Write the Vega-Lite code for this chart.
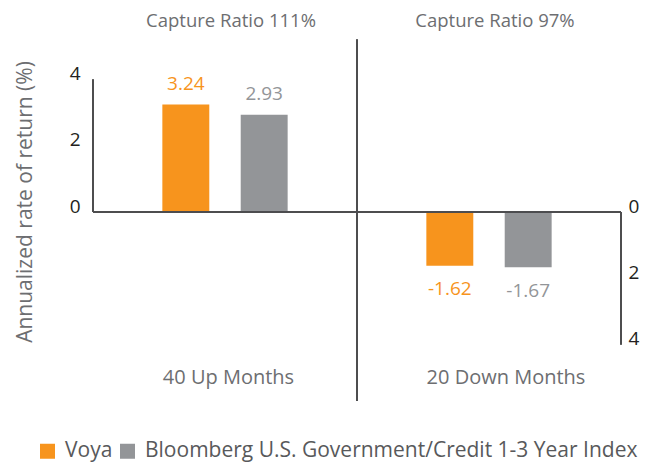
{
  "$schema": "https://vega.github.io/schema/vega-lite/v6.json",
  "autosize": "none",
  "width": 528,
  "height": 305,
  "padding": {"left": 93, "top": 59.5, "right": 29, "bottom": 98.5},
  "config": {"font": "Open Sans", "view": {"stroke": null}},
  "data": {
    "values": [
      {"group": "Up", "series": "Voya", "value": 3.24},
      {"group": "Up", "series": "Bloomberg U.S. Government/Credit 1-3 Year Index", "value": 2.93},
      {"group": "Down", "series": "Voya", "value": -1.62},
      {"group": "Down", "series": "Bloomberg U.S. Government/Credit 1-3 Year Index", "value": -1.67}
    ]
  },
  "layer": [
    {
      "mark": {"type": "bar"},
      "encoding": {
        "x": {
          "field": "group", "type": "nominal", "sort": ["Up", "Down"],
          "scale": {"paddingInner": 0, "paddingOuter": 0},
          "axis": {
            "orient": "bottom", "title": null, "domain": false, "ticks": false, "tickSize": 0,
            "labelAngle": 0, "labelBaseline": "middle", "labelPadding": 12.5,
            "labelFontSize": 20, "labelColor": "#6d6e71",
            "labelExpr": "datum.value == 'Up' ? '40 Up Months' : '20 Down Months'",
            "labelOffset": {"condition": {"test": "datum.value == 'Down'", "value": 17}, "value": 3.5}
          }
        },
        "xOffset": {
          "field": "series", "type": "nominal",
          "sort": ["Voya", "Bloomberg U.S. Government/Credit 1-3 Year Index"],
          "scale": {"paddingInner": 0.401, "paddingOuter": 0.885}
        },
        "y": {
          "field": "value", "type": "quantitative",
          "scale": {"domain": [-4.6, 4.6], "nice": false, "zero": false},
          "axis": {
            "orient": "left", "values": [0, 2, 4], "domain": false, "ticks": false, "tickSize": 0, "grid": false,
            "labelPadding": 13, "labelFontSize": 19, "labelColor": "#231f20", "labelOffset": -6,
            "title": "Annualized rate of return (%)", "titleFontSize": 21, "titleFontWeight": "normal",
            "titleColor": "#6d6e71", "titlePadding": 34, "titleY": 142
          }
        },
        "color": {
          "field": "series", "type": "nominal",
          "scale": {
            "domain": ["Voya", "Bloomberg U.S. Government/Credit 1-3 Year Index"],
            "range": ["#F7941D", "#939598"]
          },
          "legend": {
            "orient": "none", "legendX": -56, "legendY": 381, "direction": "horizontal",
            "title": null, "symbolType": "square", "symbolSize": 225, "symbolStrokeWidth": 0,
            "symbolOpacity": 1, "labelFontSize": 21, "labelColor": "#58595b", "labelLimit": 0,
            "columnPadding": 4, "labelOffset": 7, "padding": 0
          }
        }
      }
    },
    {
      "transform": [{"filter": "datum.value > 0"}],
      "mark": {"type": "text", "baseline": "middle", "dy": -21, "fontSize": 19},
      "encoding": {
        "x": {
          "field": "group", "type": "nominal", "sort": ["Up", "Down"],
          "axis": {
            "orient": "top", "title": null, "domain": false, "ticks": false, "tickSize": 0,
            "labelAngle": 0, "labelBaseline": "middle", "labelPadding": 39.5,
            "labelFontSize": 18.5, "labelColor": "#6d6e71", "labelOffset": 6,
            "labelExpr": "datum.value == 'Up' ? 'Capture Ratio 111%' : 'Capture Ratio 97%'"
          }
        },
        "xOffset": {"field": "series", "type": "nominal", "sort": ["Voya", "Bloomberg U.S. Government/Credit 1-3 Year Index"]},
        "y": {
          "field": "value", "type": "quantitative",
          "axis": {
            "orient": "right", "values": [0, -2, -4], "domain": false, "ticks": false, "tickSize": 0, "grid": false,
            "labelPadding": 7, "labelFontSize": 19, "labelColor": "#231f20", "labelOffset": -6,
            "labelExpr": "'' + abs(datum.value)", "title": null
          }
        },
        "text": {"field": "value", "type": "nominal"},
        "color": {"field": "series", "type": "nominal", "legend": null}
      }
    },
    {
      "transform": [{"filter": "datum.value < 0"}],
      "mark": {"type": "text", "baseline": "middle", "dy": 23.5, "fontSize": 19},
      "encoding": {
        "x": {"field": "group", "type": "nominal", "sort": ["Up", "Down"], "axis": null},
        "xOffset": {"field": "series", "type": "nominal", "sort": ["Voya", "Bloomberg U.S. Government/Credit 1-3 Year Index"]},
        "y": {"field": "value", "type": "quantitative", "axis": null},
        "text": {"field": "value", "type": "nominal"},
        "color": {"field": "series", "type": "nominal", "legend": null}
      }
    },
    {
      "mark": {"type": "rule", "color": "#4d4d4f", "strokeWidth": 1.5},
      "encoding": {"y": {"datum": 0, "type": "quantitative", "axis": null}}
    },
    {
      "mark": {"type": "rule", "color": "#4d4d4f", "strokeWidth": 1.5},
      "encoding": {
        "x": {"datum": "Up", "type": "nominal", "bandPosition": 0, "axis": null},
        "y": {"datum": 0, "type": "quantitative", "axis": null},
        "y2": {"datum": 4}
      }
    },
    {
      "mark": {"type": "rule", "color": "#4d4d4f", "strokeWidth": 1.5},
      "encoding": {
        "x": {"datum": "Down", "type": "nominal", "bandPosition": 1, "axis": null},
        "y": {"datum": 0, "type": "quantitative", "axis": null},
        "y2": {"datum": -4}
      }
    },
    {
      "mark": {"type": "rule", "color": "#4d4d4f", "strokeWidth": 1.5},
      "encoding": {
        "x": {"datum": "Down", "type": "nominal", "bandPosition": 0, "axis": null},
        "y": {"datum": 5.2, "type": "quantitative", "axis": null},
        "y2": {"datum": -5.7}
      }
    }
  ],
  "resolve": {"axis": {"x": "independent", "y": "independent"}}
}
